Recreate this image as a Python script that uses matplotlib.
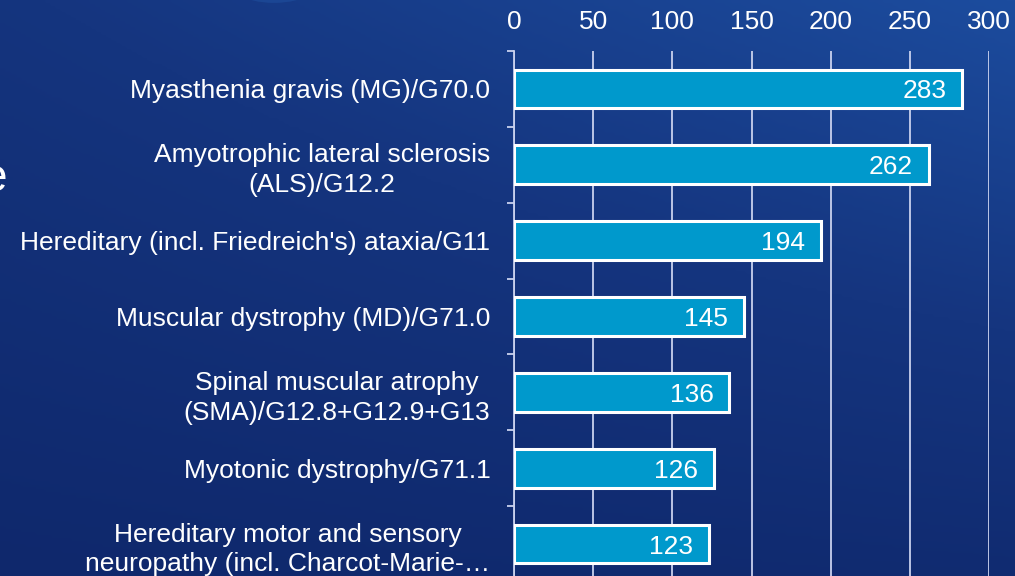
import matplotlib.pyplot as plt
import numpy as np
from matplotlib.colors import LinearSegmentedColormap

# data
diseases = [
    "Myasthenia gravis (MG)/G70.0",
    "Amyotrophic lateral sclerosis\n(ALS)/G12.2",
    "Hereditary (incl. Friedreich's) ataxia/G11",
    "Muscular dystrophy (MD)/G71.0",
    "Spinal muscular atrophy\n(SMA)/G12.8+G12.9+G13",
    "Myotonic dystrophy/G71.1",
    "Hereditary motor and sensory\nneuropathy (incl. Charcot-Marie-\u2026",
]
patients = [283, 262, 194, 145, 136, 126, 123]
xticks = [0, 50, 100, 150, 200, 250, 300]

plt.rcParams['font.family'] = ['Liberation Sans', 'DejaVu Sans']
fs = 19

fig = plt.figure(figsize=(10.15, 5.76), dpi=100)

# slide background gradient
bg = fig.add_axes([0, 0, 1, 1])
bg.set_axis_off()
yy, xx = np.mgrid[0:1:200j, 0:1:200j]
grad = 0.55 * (1 - yy) + 0.45 * xx * (1 - yy) + 0.15 * xx
cmap = LinearSegmentedColormap.from_list('slide', ['#0f286c', '#15357f', '#1c4c9e'])
bg.imshow(grad, cmap=cmap, aspect='auto', extent=[0, 1, 0, 1], origin='upper')
bg.set_xlim(0, 1)
bg.set_ylim(0, 1)
# faint glow of a shape cut off at the top
glow = plt.Circle((0.27, 1.05), 0.055, color='#2a6cc0', alpha=0.25, lw=0)
bg.add_patch(glow)
bg.text(0.007, 0.69, "e", color='white', fontsize=33, ha='right', va='center')

ax = fig.add_axes([0.5064, -0.0104, 0.468, 0.9219])
ax.patch.set_alpha(0)

grid_c = '#c9d1ee'
y = np.arange(len(diseases))
ax.barh(y, patients, height=0.51, color='#0099cc', edgecolor='white', linewidth=2.2, zorder=3)
for yi, v in zip(y, patients):
    ax.text(v - 10, yi, str(v), color='white', fontsize=fs, ha='right',
            va='center_baseline', zorder=4)

ax.set_xlim(0, 300)
ax.set_ylim(len(diseases) - 0.5, -0.5)
ax.set_xticks(xticks)
ax.xaxis.tick_top()
ax.tick_params(axis='x', length=0, pad=12, labelsize=fs, labelcolor='white')
ax.grid(axis='x', color=grid_c, linewidth=1.3, zorder=1)

ax.set_yticks(y)
ax.set_yticklabels(diseases, multialignment='center', linespacing=1.3)
ax.tick_params(axis='y', which='major', length=0, pad=17, labelsize=fs, labelcolor='white')
ax.set_yticks(np.arange(len(diseases) + 1) - 0.5, minor=True)
ax.tick_params(axis='y', which='minor', length=5, width=1.3, color=grid_c)

for s in ['top', 'right', 'bottom']:
    ax.spines[s].set_visible(False)
ax.spines['left'].set_color(grid_c)
ax.spines['left'].set_linewidth(1.3)

fig.savefig('out.png', dpi=100)
